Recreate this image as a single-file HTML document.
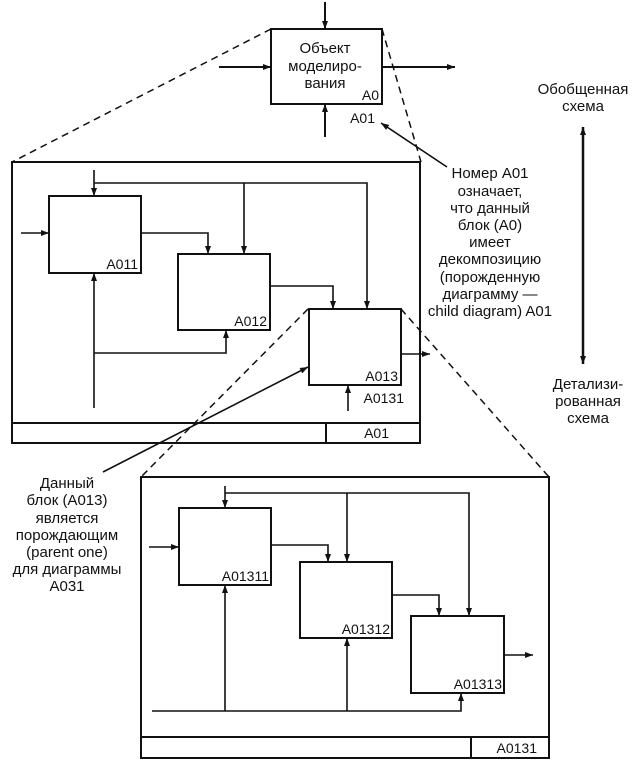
<!DOCTYPE html>
<html><head><meta charset="utf-8"><style>
html,body{margin:0;padding:0;background:#fff}
svg{display:block}
text{font-family:"Liberation Sans",Arial,sans-serif;font-size:14px;fill:#111}
.b text{font-size:15px}
</style></head><body>
<svg width="637" height="763" viewBox="0 0 637 763" xmlns="http://www.w3.org/2000/svg">
<defs>
<marker id="a" markerWidth="8" markerHeight="6" refX="8" refY="3" orient="auto" markerUnits="userSpaceOnUse"><path d="M0,0 L8,3 L0,6 Z" fill="#111"/></marker>
<marker id="as" markerWidth="8" markerHeight="6" refX="0" refY="3" orient="auto" markerUnits="userSpaceOnUse"><path d="M8,0 L0,3 L8,6 Z" fill="#111"/></marker>
</defs>
<g stroke="#111" stroke-width="2" fill="none">
<rect x="271" y="29" width="111" height="75"/>
<line x1="325" y1="2" x2="325" y2="29" marker-end="url(#a)"/>
<line x1="219" y1="67" x2="271" y2="67" marker-end="url(#a)"/>
<line x1="382" y1="67" x2="455" y2="67" marker-end="url(#a)"/>
<line x1="325" y1="137" x2="325" y2="104" marker-end="url(#a)"/>
<line x1="447" y1="167" x2="381" y2="123" stroke-width="1.6" marker-end="url(#a)"/>
<line x1="583" y1="127" x2="583" y2="364" stroke-width="2.5" marker-start="url(#as)" marker-end="url(#a)"/>
<g stroke-dasharray="7,5" stroke-width="1.5">
<line x1="271" y1="29" x2="12" y2="162"/>
<line x1="382" y1="29" x2="421" y2="162"/>
<line x1="308" y1="309" x2="141" y2="477"/>
<line x1="401" y1="309" x2="549" y2="477"/>
</g>
<rect x="12" y="162" width="408" height="281"/>
<line x1="12" y1="423" x2="420" y2="423"/>
<line x1="326" y1="423" x2="326" y2="443"/>
<rect x="49" y="196" width="92" height="77"/>
<rect x="178" y="254" width="92" height="76"/>
<rect x="309" y="309" width="92" height="76"/>
<g stroke-width="1.6">
<line x1="94" y1="170" x2="94" y2="196" marker-end="url(#a)"/>
<polyline points="94,183 367,183 367,309" marker-end="url(#a)"/>
<line x1="244" y1="183" x2="244" y2="254" marker-end="url(#a)"/>
<line x1="21" y1="233" x2="49" y2="233" marker-end="url(#a)"/>
<polyline points="141,233 208,233 208,254" marker-end="url(#a)"/>
<polyline points="270,286 333,286 333,309" marker-end="url(#a)"/>
<line x1="401" y1="354" x2="430" y2="354" marker-end="url(#a)"/>
<line x1="94" y1="408" x2="94" y2="273" marker-end="url(#a)"/>
<polyline points="94,353 226,353 226,330" marker-end="url(#a)"/>
<line x1="348" y1="411" x2="348" y2="385" marker-end="url(#a)"/>
<line x1="103" y1="472" x2="308" y2="367" marker-end="url(#a)"/>
</g>
<rect x="141" y="477" width="408" height="281"/>
<line x1="141" y1="737" x2="549" y2="737"/>
<line x1="471" y1="737" x2="471" y2="758"/>
<rect x="179" y="508" width="92" height="77"/>
<rect x="300" y="562" width="92" height="76"/>
<rect x="411" y="616" width="93" height="77"/>
<g stroke-width="1.6">
<line x1="225" y1="486" x2="225" y2="508" marker-end="url(#a)"/>
<polyline points="225,493 469,493 469,616" marker-end="url(#a)"/>
<line x1="347" y1="493" x2="347" y2="562" marker-end="url(#a)"/>
<line x1="149" y1="547" x2="179" y2="547" marker-end="url(#a)"/>
<polyline points="271,545 328,545 328,562" marker-end="url(#a)"/>
<polyline points="392,595 439,595 439,616" marker-end="url(#a)"/>
<line x1="504" y1="655" x2="533" y2="655" marker-end="url(#a)"/>
<polyline points="152,711 461,711 461,693" marker-end="url(#a)"/>
<line x1="225" y1="711" x2="225" y2="585" marker-end="url(#a)"/>
<line x1="347" y1="711" x2="347" y2="638" marker-end="url(#a)"/>
</g>
</g>
<g text-anchor="middle" class="b">
<text x="325" y="53">Объект</text>
<text x="325" y="71">моделиро-</text>
<text x="325" y="88">вания</text>
<text x="490" y="178">Номер A01</text>
<text x="490" y="196">означает,</text>
<text x="490" y="213">что данный</text>
<text x="490" y="230">блок (A0)</text>
<text x="490" y="247">имеет</text>
<text x="490" y="264">декомпозицию</text>
<text x="490" y="282">(порожденную</text>
<text x="490" y="299">диаграмму —</text>
<text x="490" y="316">child diagram) A01</text>
<text x="583" y="94">Обобщенная</text>
<text x="583" y="111">схема</text>
<text x="588" y="389">Детализи-</text>
<text x="588" y="406">рованная</text>
<text x="588" y="423">схема</text>
<text x="67" y="488">Данный</text>
<text x="67" y="505">блок (A013)</text>
<text x="67" y="523">является</text>
<text x="67" y="540">порождающим</text>
<text x="67" y="557">(parent one)</text>
<text x="67" y="574">для диаграммы</text>
<text x="67" y="591">A031</text>
</g>
<g text-anchor="end">
<text x="379" y="100">A0</text>
<text x="375" y="123">A01</text>
<text x="138" y="269">A011</text>
<text x="267" y="326">A012</text>
<text x="398" y="381">A013</text>
<text x="404" y="403">A0131</text>
<text x="389" y="438">A01</text>
<text x="269" y="581">A01311</text>
<text x="390" y="634">A01312</text>
<text x="502" y="689">A01313</text>
<text x="537" y="753">A0131</text>
</g>
</svg>
</body></html>
